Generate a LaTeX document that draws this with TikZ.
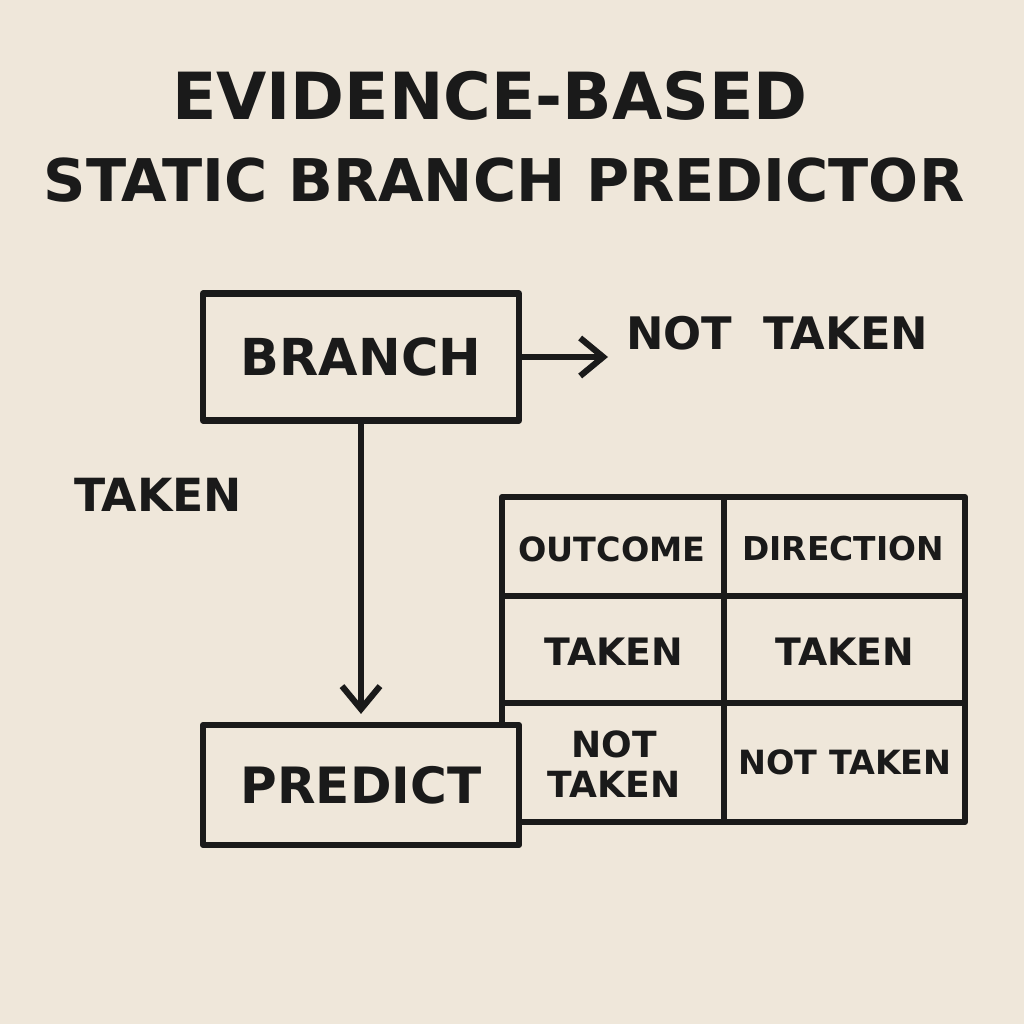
\documentclass[tikz,border=0pt]{standalone}
\usepackage{fontspec}
\setmainfont{DejaVu Sans}
\usepackage[HTML]{xcolor}
\usetikzlibrary{arrows.meta}
\definecolor{paper}{HTML}{EFE7DA}
\definecolor{ink}{HTML}{1A1A1A}
\tikzset{
  ink line/.style={draw=ink, line width=3.5pt, line join=round},
  box/.style={ink line, fill=paper},
  flow/.style={ink line, line cap=round, -{Straight Barb[length=4.6mm,width=7.6mm,line width=3.5pt]}},
  big text/.style={text=ink, font=\bfseries\fontsize{29}{34}\selectfont},
  mid text/.style={text=ink, font=\bfseries\fontsize{25.5}{30}\selectfont},
  cell text/.style={text=ink, font=\bfseries\fontsize{21.5}{24}\selectfont, align=center},
}
\begin{document}
\begin{tikzpicture}[x=0.02cm, y=-0.02cm]
% Paper
\fill[paper] (0,0) rectangle (1024,1024);

% Title
\node[text=ink, font=\bfseries\fontsize{37}{40}\selectfont] (title1) at (490,96) {EVIDENCE-BASED};
\node[text=ink, font=\bfseries\fontsize{33.5}{40}\selectfont] (title2) at (504,180) {STATIC BRANCH PREDICTOR};

% Outcome table
\draw[ink line] (502,497) rectangle (965,822);
\draw[ink line] (724,497) -- (724,822);
\draw[ink line] (502,596) -- (965,596);
\draw[ink line] (502,703) -- (965,703);
\node[cell text, font=\bfseries\fontsize{19}{24}\selectfont] (outcome) at (612,549) {OUTCOME};
\node[cell text, font=\bfseries\fontsize{18.7}{24}\selectfont] (direction) at (843,549) {DIRECTION};
\node[cell text] (taken1) at (614,652) {TAKEN};
\node[cell text] (taken2) at (845,652) {TAKEN};
\node[cell text, font=\bfseries\fontsize{20.5}{23}\selectfont] (nottaken1) at (614,764) {NOT\\TAKEN};
\node[cell text, font=\bfseries\fontsize{19}{24}\selectfont] (nottaken2) at (845,762) {NOT TAKEN};

% Branch and predict boxes
\node[box, minimum width=316*0.02cm, minimum height=127*0.02cm, inner sep=0pt] (branch) at (361,357) {};
\node[big text] at (branch.center) {BRANCH};
\node[box, minimum width=316*0.02cm, minimum height=120*0.02cm, inner sep=0pt] (predict) at (361,785) {};
\node[big text, font=\bfseries\fontsize{28.5}{34}\selectfont] at (predict.center) {PREDICT};

% Outcome labels
\node[mid text, anchor=west] (nottaken) at (620,333) {NOT\ \ TAKEN};
\node[mid text, font=\bfseries\fontsize{26}{30}\selectfont] (taken) at (158,495) {TAKEN};

% Arrows
\coordinate (nt end) at (608,357);
\draw[flow] (branch.east |- nt end) -- (nt end);
\draw[flow] (branch.south) -- ([yshift=0.16cm]predict.north);
\end{tikzpicture}
\end{document}
